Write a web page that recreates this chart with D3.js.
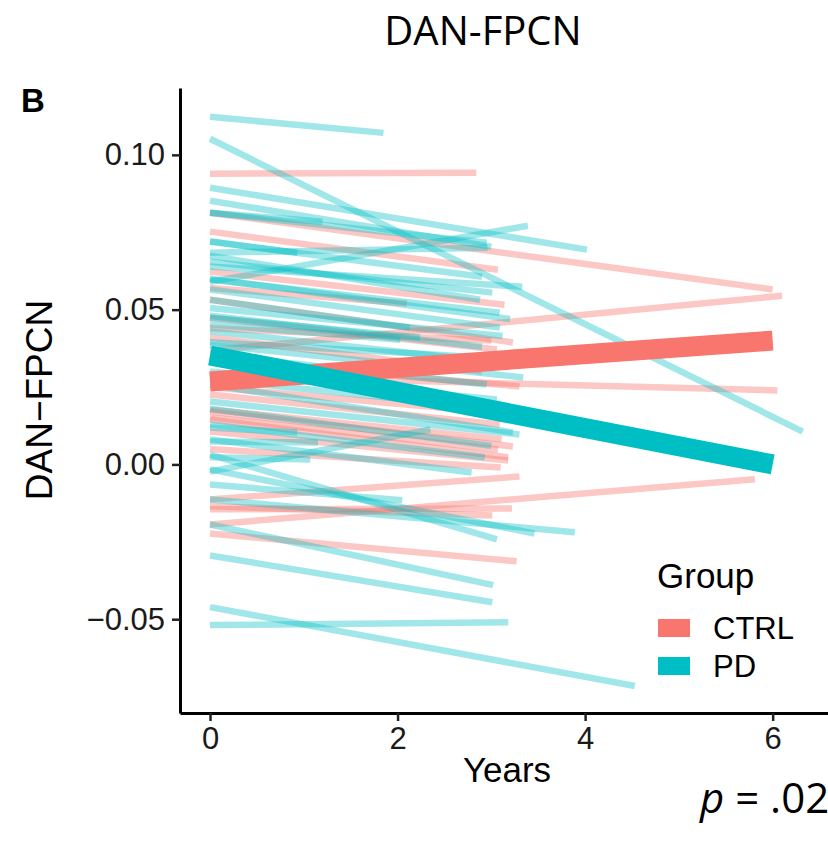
<!DOCTYPE html>
<html>
<head>
<meta charset="utf-8">
<script src="https://cdn.jsdelivr.net/npm/d3@7"></script>
<style>
  body { margin: 0; background: #fff; }
  svg { display: block; }
</style>
</head>
<body>
<svg id="mainSvg" width="828" height="849"></svg>
<script>
// each subject: [year0, value0, year1, value1]
const ctrlLines = [
    [0, 0.0939, 2.84, 0.0942], [0, 0.0813, 6.00, 0.0565], [0, 0.0752, 3.07, 0.0629],
    [0, 0.0368, 6.10, 0.0545], [0, 0.0287, 6.05, 0.0239], [0, 0.0623, 3.14, 0.0516],
    [0, 0.0532, 3.23, 0.0394], [0, 0.0474, 3.06, 0.0371], [0, 0.0339, 3.30, 0.0252],
    [0, 0.0226, 3.09, 0.0129], [0, 0.0177, 3.11, 0.0081], [0, 0.0171, 3.23, 0.0058],
    [0, 0.0145, 3.18, 0.0023], [0, 0.0152, 3.07, 0.0048], [0, 0.0106, 3.18, 0.0013],
    [0, -0.0113, 3.30, -0.0039], [0, -0.0194, 5.81, -0.0048], [0, -0.0145, 3.22, -0.0142],
    [0, -0.0135, 3.01, -0.0165], [0, -0.0223, 3.27, -0.0313], [0, 0.0440, 3.00, 0.0400],
    [0, 0.0410, 2.90, 0.0300], [0, 0.0250, 2.95, 0.0170], [0, 0.0050, 3.10, -0.0010],
    [0, 0.0570, 2.10, 0.0520]
];
const pdLines = [
    [0, 0.1123, 1.85, 0.1071], [0, 0.1052, 6.32, 0.0106], [0, 0.0894, 4.02, 0.0694],
    [0, 0.0852, 3.00, 0.0703], [0, 0.0590, 3.39, 0.0771], [0, 0.0813, 1.20, 0.0784],
    [0, 0.0813, 2.95, 0.0716], [0, 0.0720, 0.93, 0.0684], [0, 0.0684, 2.96, 0.0700],
    [0, 0.0720, 2.90, 0.0606], [0, 0.0639, 3.33, 0.0574], [0, 0.0655, 3.01, 0.0555],
    [0, 0.0597, 3.09, 0.0490], [0, 0.0565, 3.09, 0.0442], [0, 0.0387, 3.34, 0.0281],
    [0, 0.0355, 2.95, 0.0258], [0, 0.0300, 3.06, 0.0210], [0, 0.0258, 3.23, 0.0103],
    [0, 0.0203, 3.30, 0.0097], [0, 0.0129, 2.93, 0.0023], [0, 0.0532, 2.13, 0.0442],
    [0, 0.0474, 2.24, 0.0410], [0, 0.0452, 2.03, 0.0403], [0, 0.0119, 0.93, 0.0103],
    [0, 0.0074, 1.15, 0.0071], [0, 0.0023, 1.07, 0.0016], [0, 0.0081, 2.79, -0.0026],
    [0, -0.0023, 2.35, 0.0113], [0, 0.0032, 3.06, -0.0242], [0, -0.0016, 3.46, -0.0223],
    [0, -0.0113, 3.89, -0.0219], [0, -0.0065, 2.05, -0.0116], [0, -0.0194, 3.02, -0.0390],
    [0, -0.0294, 3.01, -0.0445], [0, -0.0461, 4.53, -0.0716], [0, -0.0519, 3.18, -0.0510],
    [0, 0.0674, 2.88, 0.0532], [0, 0.0600, 3.20, 0.0470], [0, 0.0480, 2.90, 0.0380],
    [0, 0.0430, 3.05, 0.0330], [0, 0.0330, 3.15, 0.0180], [0, 0.0180, 3.00, 0.0060],
    [0, 0.0505, 3.12, 0.0415], [0, 0.0395, 2.98, 0.0345], [0, 0.0275, 2.40, 0.0200]
];
// group fits
const ctrlFit = [0, 0.0268, 6, 0.0400];
const pdFit = [0, 0.0352, 6, 0.0000];

const groups = ["CTRL", "PD"];
const groupColors = ["#F8766D", "#00BFC4"];
const xTicks = [0, 2, 4, 6];
const yTicks = [-0.05, 0, 0.05, 0.10];

let svg = d3.select('#mainSvg');
const color = d3.scaleOrdinal().domain(groups).range(groupColors);
const font = "Liberation Sans, Arial, sans-serif";

const x = d3.scaleLinear().domain([-0.32, 6.59]).range([180, 828]);
const y = d3.scaleLinear().domain([-0.0803, 0.1216]).range([713, 88]);

// 个体线
const drawLines = function (data, group, width, opacity) {
    svg.append("g").selectAll("line").data(data).join("line")
        .attr("x1", d => x(d[0]))
        .attr("y1", d => y(d[1]))
        .attr("x2", d => x(d[2]))
        .attr("y2", d => y(d[3]))
        .attr("stroke", color(group))
        .attr("stroke-opacity", opacity)
        .attr("stroke-width", width);
};
drawLines(ctrlLines, "CTRL", 6.5, 0.4);
drawLines(pdLines, "PD", 6.5, 0.37);
drawLines([ctrlFit], "CTRL", 20, 1);
drawLines([pdFit], "PD", 20, 1);

// 坐标轴
const yFmt = d => (d < 0 ? "\u2212" : "") + d3.format(".2f")(Math.abs(d));
const yAxis = svg.append("g")
    .attr("transform", "translate(180,0)")
    .call(d3.axisLeft(y).tickValues(yTicks).tickFormat(yFmt).tickSize(8).tickSizeOuter(0).tickPadding(7));
const xAxis = svg.append("g")
    .attr("transform", "translate(0,713)")
    .call(d3.axisBottom(x).tickValues(xTicks).tickFormat(d3.format("d")).tickSize(8).tickSizeOuter(0).tickPadding(6));

[yAxis, xAxis].forEach(a => {
    a.select(".domain").attr("stroke", "#000").attr("stroke-width", 3);
    a.selectAll(".tick line").attr("stroke", "#222").attr("stroke-width", 2.5);
    a.selectAll(".tick text")
        .attr("fill", "#1a1a1a")
        .attr("font-family", font)
        .attr("font-size", 31);
});

// 标题与标签
svg.append("text")
    .text("DAN-FPCN")
    .attr("x", 483).attr("y", 45)
    .attr("text-anchor", "middle")
    .attr("font-family", "Open Sans, sans-serif")
    .attr("font-size", 40);

svg.append("text")
    .text("B")
    .attr("x", 21).attr("y", 112)
    .attr("font-family", font)
    .attr("font-weight", "bold")
    .attr("font-size", 33);

svg.append("text")
    .text("DAN\u2212FPCN")
    .attr("transform", "translate(52,400) rotate(-90)")
    .attr("text-anchor", "middle")
    .attr("font-family", font)
    .attr("font-size", 37);

svg.append("text")
    .text("Years")
    .attr("x", 507).attr("y", 782)
    .attr("text-anchor", "middle")
    .attr("font-family", font)
    .attr("font-size", 35);

const pText = svg.append("text")
    .attr("x", 700).attr("y", 813)
    .attr("font-family", "Open Sans, sans-serif")
    .attr("font-size", 42);
pText.append("tspan").attr("font-style", "italic").text("p");
pText.append("tspan").text(" = .02");

// 图例
const legend = svg.append("g").attr("transform", "translate(657,0)");
legend.append("text")
    .text("Group")
    .attr("x", 0).attr("y", 588)
    .attr("font-family", font)
    .attr("font-size", 35);
legend.selectAll("rect").data(groups).join("rect")
    .attr("x", 1)
    .attr("y", (d, i) => 619 + i * 38)
    .attr("width", 32).attr("height", 18)
    .attr("fill", d => color(d));
legend.selectAll("text.lab").data(groups).join("text")
    .attr("class", "lab")
    .text(d => d)
    .attr("x", 56)
    .attr("y", (d, i) => 639 + i * 38)
    .attr("font-family", font)
    .attr("font-size", 31);
</script>
</body>
</html>
